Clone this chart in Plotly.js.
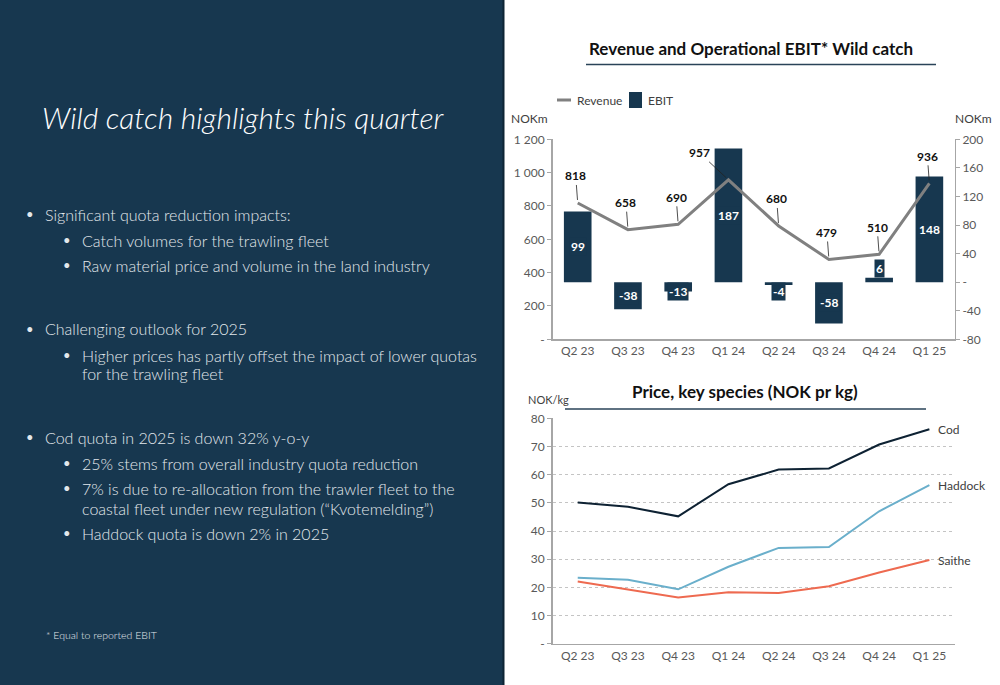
<!DOCTYPE html>
<html>
<head>
<meta charset="utf-8">
<script src="https://cdn.plot.ly/plotly-3.0.1.min.js"></script>
<style>
  html, body { margin: 0; padding: 0; background: #ffffff; }
  #chart { width: 1000px; height: 685px; }
</style>
</head>
<body>
<div id="chart"></div>
<script>
// ---------- data ----------
const quarters = ['Q2 23', 'Q3 23', 'Q4 23', 'Q1 24', 'Q2 24', 'Q3 24', 'Q4 24', 'Q1 25'];
const revenue = [818, 658, 690, 957, 680, 479, 510, 936];
const ebit = [99, -38, -13, 187, -4, -58, 6, 148];
const cod = [50.1, 48.6, 45.2, 56.6, 61.8, 62.2, 70.7, 76.1];
const haddock = [23.4, 22.7, 19.3, 27.3, 34.0, 34.3, 47.0, 56.3];
const saithe = [22.1, 19.3, 16.4, 18.3, 18.0, 20.4, 25.3, 29.7];

const revTickVals = [0, 200, 400, 600, 800, 1000, 1200];
const revTickText = ['-', '200', '400', '600', '800', '1 000', '1 200'];
const ebitTickVals = [-80, -40, 0, 40, 80, 120, 160, 200];
const ebitTickText = ['-80', '-40', '-', '40', '80', '120', '160', '200'];
const priceTickVals = [0, 10, 20, 30, 40, 50, 60, 70, 80];
const priceTickText = ['-', '10', '20', '30', '40', '50', '60', '70', '80'];

const bullets = [
  {lvl: 0, text: 'Significant quota reduction impacts:', y: 214},
  {lvl: 1, text: 'Catch volumes for the trawling fleet', y: 240},
  {lvl: 1, text: 'Raw material price and volume in the land industry', y: 265},
  {lvl: 0, text: 'Challenging outlook for 2025', y: 329},
  {lvl: 1, text: 'Higher prices has partly offset the impact of lower quotas', y: 355},
  {lvl: 2, text: 'for the trawling fleet', y: 374},
  {lvl: 0, text: 'Cod quota in 2025 is down 32% y-o-y', y: 437},
  {lvl: 1, text: '25% stems from overall industry quota reduction', y: 463},
  {lvl: 1, text: '7% is due to re-allocation from the trawler fleet to the', y: 488},
  {lvl: 2, text: 'coastal fleet under new regulation (\u201cKvotemelding\u201d)', y: 508},
  {lvl: 1, text: 'Haddock quota is down 2% in 2025', y: 533}
];

// ---------- helpers ----------
const W = 1000, H = 685;
const px = x => x / W;
const py = y => 1 - y / H;
const NAVY = '#17374f';
const AXIS = '#a6a6a6';
const TICKF = {family: 'Lato, sans-serif', size: 12, color: '#595959'};
const FONT = 'Lato, "Open Sans", sans-serif';
const PANEL_TXT = '#e3e8ec';

const traces = [
  {
    type: 'bar', name: 'EBIT', x: quarters, y: ebit, xaxis: 'x', yaxis: 'y',
    marker: {color: NAVY}, width: 0.55, hoverinfo: 'x+y'
  },
  {
    type: 'scatter', mode: 'lines', name: 'Revenue', x: quarters, y: revenue,
    xaxis: 'x', yaxis: 'y2', line: {color: '#808080', width: 3}
  },
  {
    type: 'scatter', mode: 'lines', name: 'Cod', x: quarters, y: cod,
    xaxis: 'x2', yaxis: 'y3', line: {color: '#0e2233', width: 2}
  },
  {
    type: 'scatter', mode: 'lines', name: 'Haddock', x: quarters, y: haddock,
    xaxis: 'x2', yaxis: 'y3', line: {color: '#6aafcb', width: 2}
  },
  {
    type: 'scatter', mode: 'lines', name: 'Saithe', x: quarters, y: saithe,
    xaxis: 'x2', yaxis: 'y3', line: {color: '#ee6a50', width: 2}
  }
];

const annotations = [];
const shapes = [];

// left panel
shapes.push({type: 'rect', xref: 'paper', yref: 'paper', x0: 0, x1: px(504), y0: 0, y1: 1,
  fillcolor: '#17374f', line: {width: 0}, layer: 'below'});
shapes.push({type: 'line', xref: 'paper', yref: 'paper', x0: px(503.5), x1: px(503.5), y0: 0, y1: 1,
  line: {color: '#0d2434', width: 2}, layer: 'below'});

annotations.push({xref: 'paper', yref: 'paper', x: px(40), y: py(117), xanchor: 'left', yanchor: 'middle',
  showarrow: false, text: 'Wild catch highlights this quarter',
  font: {family: FONT, size: 30, color: '#ffffff', style: 'italic', weight: 300}});

bullets.forEach(b => {
  const textX = b.lvl === 0 ? 43 : 80;
  const dotX = b.lvl === 0 ? 24 : 61;
  if (b.lvl < 2) {
    annotations.push({xref: 'paper', yref: 'paper', x: px(dotX), y: py(b.y), xanchor: 'left', yanchor: 'middle',
      showarrow: false, text: '\u2022', font: {family: FONT, size: 13, color: PANEL_TXT}});
  }
  annotations.push({xref: 'paper', yref: 'paper', x: px(textX), y: py(b.y), xanchor: 'left', yanchor: 'middle',
    showarrow: false, text: b.text, font: {family: FONT, size: 16, color: PANEL_TXT, weight: 300}});
});
annotations.push({xref: 'paper', yref: 'paper', x: px(44), y: py(635), xanchor: 'left', yanchor: 'middle',
  showarrow: false, text: '* Equal to reported EBIT', font: {family: FONT, size: 10.5, color: PANEL_TXT, weight: 300}});

// chart titles + underlines
annotations.push({xref: 'paper', yref: 'paper', x: px(751), y: py(49), xanchor: 'center', yanchor: 'middle',
  showarrow: false, text: '<b>Revenue and Operational EBIT* Wild catch</b>',
  font: {family: FONT, size: 17, color: '#111111'}});
shapes.push({type: 'line', xref: 'paper', yref: 'paper', x0: px(586), x1: px(936), y0: py(64.5), y1: py(64.5),
  line: {color: '#2a4358', width: 1.5}});
annotations.push({xref: 'paper', yref: 'paper', x: px(745), y: py(392), xanchor: 'center', yanchor: 'middle',
  showarrow: false, text: '<b>Price, key species (NOK pr kg)</b>',
  font: {family: FONT, size: 17, color: '#111111'}});
shapes.push({type: 'line', xref: 'paper', yref: 'paper', x0: px(565), x1: px(926), y0: py(409), y1: py(409),
  line: {color: '#2a4358', width: 1.5}});

// legend (manual)
shapes.push({type: 'line', xref: 'paper', yref: 'paper', x0: px(557), x1: px(571), y0: py(100), y1: py(100),
  line: {color: '#808080', width: 3}});
annotations.push({xref: 'paper', yref: 'paper', x: px(575), y: py(100), xanchor: 'left', yanchor: 'middle',
  showarrow: false, text: 'Revenue', font: {family: FONT, size: 12, color: '#404040'}});
shapes.push({type: 'rect', xref: 'paper', yref: 'paper', x0: px(629), x1: px(642), y0: py(108), y1: py(92),
  fillcolor: NAVY, line: {width: 0}});
annotations.push({xref: 'paper', yref: 'paper', x: px(646), y: py(100), xanchor: 'left', yanchor: 'middle',
  showarrow: false, text: 'EBIT', font: {family: FONT, size: 12, color: '#404040'}});

// unit labels
annotations.push({xref: 'paper', yref: 'paper', x: px(509), y: py(119), xanchor: 'left', yanchor: 'middle',
  showarrow: false, text: 'NOKm', font: {family: FONT, size: 12, color: '#404040'}});
annotations.push({xref: 'paper', yref: 'paper', x: px(953), y: py(119), xanchor: 'left', yanchor: 'middle',
  showarrow: false, text: 'NOKm', font: {family: FONT, size: 12, color: '#404040'}});
annotations.push({xref: 'paper', yref: 'paper', x: px(526), y: py(400), xanchor: 'left', yanchor: 'middle',
  showarrow: false, text: 'NOK/kg', font: {family: FONT, size: 11, color: '#404040'}});

// revenue labels with leader lines
const leaderShiftX = {3: -29};
quarters.forEach((q, i) => {
  annotations.push({x: q, y: revenue[i], xref: 'x', yref: 'y2', text: '<b>' + revenue[i] + '</b>',
    showarrow: true, arrowhead: 0, arrowwidth: 0.8, arrowcolor: '#222222',
    ax: (leaderShiftX[i] !== undefined ? leaderShiftX[i] : -2), ay: -27, standoff: 3,
    font: {family: FONT, size: 12, color: '#111111'}});
});

// EBIT labels
ebit.forEach((v, i) => {
  const small = Math.abs(v) < 20;
  const a = {x: quarters[i], xref: 'x', yref: 'y', text: '<b>' + v + '</b>', showarrow: false,
    font: {family: FONT, size: 12, color: '#ffffff'}, bgcolor: NAVY, borderpad: 1};
  if (!small) { a.y = v / 2; a.yanchor = 'middle'; }
  else if (v < 0) { a.y = 0; a.yanchor = 'top'; }
  else { a.y = v; a.yanchor = 'bottom'; }
  annotations.push(a);
});

// series end labels
[['Cod', cod], ['Haddock', haddock], ['Saithe', saithe]].forEach(([name, arr]) => {
  annotations.push({x: quarters[quarters.length - 1], y: arr[arr.length - 1], xref: 'x2', yref: 'y3',
    xanchor: 'left', yanchor: 'middle', xshift: 7, showarrow: false, text: name,
    font: {family: FONT, size: 12, color: '#404040'}});
});

const xDomain = [px(552.6), px(954.5)];
const layout = {
  width: W, height: H,
  margin: {l: 0, r: 0, t: 0, b: 0},
  paper_bgcolor: '#ffffff', plot_bgcolor: 'rgba(0,0,0,0)',
  showlegend: false,
  font: {family: FONT},
  xaxis: {domain: xDomain, anchor: 'y', type: 'category', range: [-0.5, 7.5],
    showline: true, linecolor: AXIS, linewidth: 1.5, ticks: '', tickfont: TICKF,
    showgrid: false, zeroline: false, fixedrange: true},
  yaxis: {domain: [1 - 339.3 / H, 1 - 139.3 / H], anchor: 'x', side: 'right', range: [-80, 200],
    tickvals: ebitTickVals, ticktext: ebitTickText, showline: true, linecolor: AXIS, linewidth: 1.5,
    ticks: 'outside', ticklen: 4, tickcolor: AXIS, tickfont: TICKF, showgrid: false, zeroline: false},
  yaxis2: {overlaying: 'y', anchor: 'x', side: 'left', range: [0, 1200],
    tickvals: revTickVals, ticktext: revTickText, showline: true, linecolor: AXIS, linewidth: 1.5,
    ticks: 'outside', ticklen: 4, tickcolor: AXIS, tickfont: TICKF, showgrid: false, zeroline: false},
  xaxis2: {domain: xDomain, anchor: 'y3', type: 'category', range: [-0.5, 7.5],
    showline: true, linecolor: AXIS, linewidth: 1.5, ticks: '', tickfont: TICKF,
    showgrid: false, zeroline: false},
  yaxis3: {domain: [1 - 643.7 / H, 1 - 418.3 / H], anchor: 'x2', range: [0, 80],
    tickvals: priceTickVals, ticktext: priceTickText, showline: true, linecolor: AXIS, linewidth: 1.5,
    ticks: 'outside', ticklen: 4, tickcolor: AXIS, tickfont: TICKF,
    showgrid: true, gridcolor: '#c4c4c4', griddash: 'dot', gridwidth: 1, zeroline: false},
  shapes: shapes,
  annotations: annotations
};

Plotly.newPlot('chart', traces, layout, {displayModeBar: false, staticPlot: true});
</script>
</body>
</html>
